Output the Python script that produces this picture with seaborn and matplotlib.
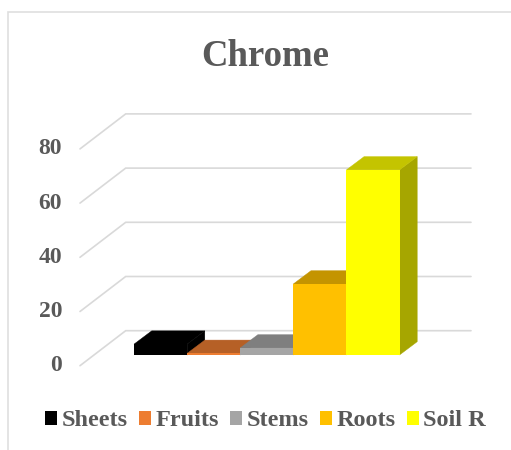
import matplotlib
matplotlib.use("Agg")
import matplotlib.pyplot as plt
import matplotlib.colors as mcolors
from matplotlib.patches import Polygon
import seaborn as sns

categories = ["Sheets", "Fruits", "Stems", "Roots", "Soil R"]
values = [4.0, 0.6, 2.6, 26.2, 68.3]
colors = ["#000000", "#ED7D31", "#A5A5A5", "#FFC000", "#FFFF00"]
y_ticks = [0, 20, 40, 60, 80]

sns.set_theme(style="white")
plt.rcParams["font.family"] = ["Liberation Serif", "DejaVu Serif"]

W, H = 511, 450
TEXT = "#595959"
GRID = "#D9D9D9"

fig = plt.figure(figsize=(W / 100, H / 100), dpi=100)
ax = fig.add_axes([0, 0, 1, 1])

sns.barplot(x=categories, y=values, hue=categories, palette=colors, width=1,
            saturation=1, linewidth=0, legend=True, ax=ax)

# scale: one bar = 53.1px, one unit = 2.71px, baseline of the bars at y=355
def px_x(p):
    return (p - 134) / 53.1 - 0.5

def px_y(p):
    return (355 - p) / 2.71

ax.set_xlim(px_x(0), px_x(W))
ax.set_ylim(px_y(H), px_y(0))
ax.axis("off")

# gridlines run along the side wall, then along the back wall
for t in y_ticks:
    front = 365.7 - t * 2.71
    back = 330.7 - t * 2.71
    ax.plot([px_x(80), px_x(125.7), px_x(471)], [px_y(front), px_y(back), px_y(back)],
            color=GRID, lw=1.2, zorder=1, solid_joinstyle="miter")
    ax.text(px_x(62), px_y(front), str(t), ha="right", va="center",
            fontsize=17, fontweight="bold", color=TEXT)

# fake 3d: top and side faces built from the bars seaborn drew
dx = 17.7 / 53.1
dy = 13.3 / 2.71
bars = [c[0] for c in ax.containers]
for i, bar in enumerate(bars):
    x0, x1 = bar.get_x(), bar.get_x() + bar.get_width()
    y0, y1 = 0, bar.get_height()
    rgb = mcolors.to_rgb(colors[i])
    z = 3 + i
    top = [(x0, y1), (x1, y1), (x1 + dx, y1 + dy), (x0 + dx, y1 + dy)]
    side = [(x1, y0), (x1 + dx, y0 + dy), (x1 + dx, y1 + dy), (x1, y1)]
    side_c = [c * 0.65 for c in rgb]
    top_c = [c * 0.77 for c in rgb]
    ax.add_patch(Polygon(side, facecolor=side_c, edgecolor=side_c, lw=0.3, zorder=z))
    ax.add_patch(Polygon(top, facecolor=top_c, edgecolor=top_c, lw=0.3, zorder=z))
    bar.set_zorder(z + 0.5)

ax.text(px_x(265.5), px_y(56), "Chrome", ha="center", va="center",
        fontsize=26.5, fontweight="bold", color=TEXT)

sns.move_legend(ax, "center left", bbox_to_anchor=(45 / W, 1 - 421 / H), ncol=5, title=None,
                frameon=False, fontsize=17.5, labelcolor=TEXT, handlelength=0.49,
                handleheight=0.49, handletextpad=0.2, columnspacing=0.45, borderpad=0,
                borderaxespad=0)
for t in ax.get_legend().get_texts():
    t.set_fontweight("bold")

# chart frame, only left and top edges are in the crop
ax.plot([7.5 / W, 7.5 / W, 1], [0, 1 - 11.5 / H, 1 - 11.5 / H], transform=ax.transAxes,
        color="#DFDFDF", lw=1.2, zorder=1, solid_joinstyle="miter")

fig.savefig("out.png", dpi=100, facecolor="white")
